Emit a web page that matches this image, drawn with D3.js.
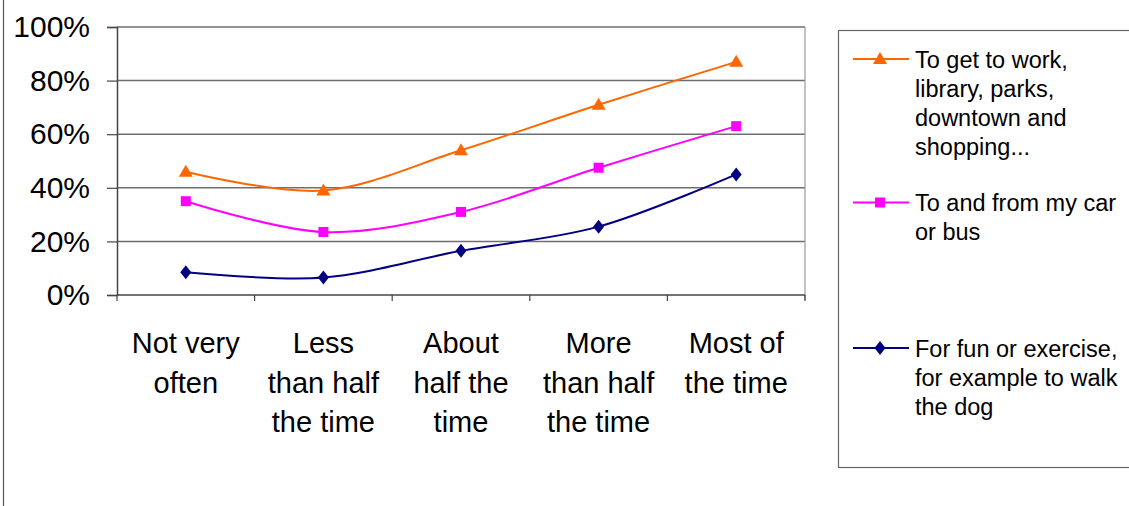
<!DOCTYPE html>
<html>
<head>
<meta charset="utf-8">
<script src="https://cdn.jsdelivr.net/npm/d3@7"></script>
<style>
  html, body { margin: 0; padding: 0; background: #fff; }
  svg { display: block; font-family: Arial, "Liberation Sans", sans-serif; }
</style>
</head>
<body>
<svg id="chart" width="1129" height="506"></svg>
<script>
// Walking frequency categories (x axis), each label split into lines
const categories = ["Not very often", "Less than half the time", "About half the time", "More than half the time", "Most of the time"];
const categoryLines = [
  ["Not very", "often"],
  ["Less", "than half", "the time"],
  ["About", "half the", "time"],
  ["More", "than half", "the time"],
  ["Most of", "the time"]
];

// Share of respondents (%) per purpose
const workShoppingValues = [46, 39, 54, 71, 87];
const carBusValues = [35, 23.5, 31, 47.5, 63];
const funExerciseValues = [8.5, 6.5, 16.5, 25.5, 45];

const yTicks = [0, 20, 40, 60, 80, 100];

const seriesNames = [
  ["To get to work,", "library, parks,", "downtown and", "shopping..."],
  ["To and from my car", "or bus"],
  ["For fun or exercise,", "for example to walk", "the dog"]
];

const series = [
  { lines: seriesNames[0], values: workShoppingValues, color: "#FF6600", marker: "triangle" },
  { lines: seriesNames[1], values: carBusValues, color: "#FF00FF", marker: "square" },
  { lines: seriesNames[2], values: funExerciseValues, color: "#000080", marker: "diamond" }
];

const svg = d3.select("#chart");
const plot = { left: 117, right: 805, top: 27, bottom: 295 };

// Outer chart frame (only its left edge falls inside the view)
svg.append("rect")
  .attr("x", 3.5).attr("y", -10)
  .attr("width", 1200).attr("height", 600)
  .attr("fill", "none").attr("stroke", "#555").attr("stroke-width", 1.2);

const x = d3.scaleBand().domain(categories).range([plot.left, plot.right]).padding(0);
const y = d3.scaleLinear().domain([0, 100]).range([plot.bottom, plot.top]);

// Horizontal gridlines
svg.append("g").selectAll("line").data(yTicks.filter(t => t > 0)).join("line")
  .attr("x1", plot.left).attr("x2", plot.right)
  .attr("y1", d => y(d)).attr("y2", d => y(d))
  .attr("stroke", "#6e6e6e").attr("stroke-width", 1.5);

// Right border of plot area
svg.append("line")
  .attr("x1", plot.right).attr("x2", plot.right)
  .attr("y1", plot.top).attr("y2", plot.bottom + 5)
  .attr("stroke", "#999").attr("stroke-width", 1.2);

// Y axis
const yAxis = svg.append("g")
  .attr("transform", `translate(${plot.left},0)`)
  .call(d3.axisLeft(y).tickValues(yTicks).tickFormat(d => d + "%").tickSize(10).tickPadding(17));
yAxis.select(".domain").attr("stroke", "#444").attr("stroke-width", 1.5);
yAxis.selectAll(".tick line").attr("stroke", "#444").attr("stroke-width", 1.2);
yAxis.selectAll("text").attr("font-size", 30).attr("fill", "#000")
  .attr("font-family", "Arial, 'Liberation Sans', sans-serif");

// X axis: ticks at category boundaries
const xAxis = svg.append("g").attr("transform", `translate(0,${plot.bottom})`);
xAxis.append("line")
  .attr("x1", plot.left).attr("x2", plot.right)
  .attr("stroke", "#444").attr("stroke-width", 1.5);
const boundaries = categories.map(c => x(c)).concat([x(categories[categories.length - 1]) + x.bandwidth()]);
xAxis.selectAll(".bt").data(boundaries).join("line")
  .attr("class", "bt")
  .attr("x1", d => d).attr("x2", d => d)
  .attr("y1", 0).attr("y2", 6)
  .attr("stroke", "#444").attr("stroke-width", 1.2);

// Category labels
const labels = svg.append("g");
categories.forEach((c, i) => {
  const t = labels.append("text")
    .attr("x", x(c) + x.bandwidth() / 2)
    .attr("y", 353)
    .attr("text-anchor", "middle")
    .attr("font-size", 29)
    .attr("fill", "#000");
  categoryLines[i].forEach((ln, j) => {
    t.append("tspan").attr("x", x(c) + x.bandwidth() / 2).attr("dy", j === 0 ? 0 : 39.5).text(ln);
  });
});

const cx = c => x(c) + x.bandwidth() / 2;

function markerPath(kind) {
  if (kind === "triangle") return "M0,-7 L7,5 L-7,5 Z";
  if (kind === "square") return "M-5,-5 L5,-5 L5,5 L-5,5 Z";
  return "M0,-7 L5.5,0 L0,7 L-5.5,0 Z";
}

// Smoothed series lines with markers
const line = d3.line()
  .x((d, i) => cx(categories[i]))
  .y(d => y(d))
  .curve(d3.curveCardinal.tension(0));

series.forEach(s => {
  svg.append("path")
    .attr("d", line(s.values))
    .attr("fill", "none")
    .attr("stroke", s.color)
    .attr("stroke-width", 2);
  svg.append("g").selectAll("path").data(s.values).join("path")
    .attr("transform", (d, i) => `translate(${cx(categories[i])},${y(d)})`)
    .attr("d", markerPath(s.marker))
    .attr("fill", s.color);
});

// Legend
const legend = svg.append("g");
legend.append("rect")
  .attr("x", 838.5).attr("y", 30.5)
  .attr("width", 300).attr("height", 437)
  .attr("fill", "#fff").attr("stroke", "#666").attr("stroke-width", 1.2);

const legendY = [59, 202.5, 348];
series.forEach((s, i) => {
  const ly = legendY[i];
  legend.append("line")
    .attr("x1", 853).attr("x2", 909)
    .attr("y1", ly).attr("y2", ly)
    .attr("stroke", s.color).attr("stroke-width", 2);
  legend.append("path")
    .attr("transform", `translate(880,${ly})`)
    .attr("d", markerPath(s.marker))
    .attr("fill", s.color);
  const t = legend.append("text")
    .attr("x", 915).attr("y", ly + 8.5)
    .attr("font-size", 23.5).attr("fill", "#000");
  s.lines.forEach((ln, j) => {
    t.append("tspan").attr("x", 915).attr("dy", j === 0 ? 0 : 29).text(ln);
  });
});
</script>
</body>
</html>
